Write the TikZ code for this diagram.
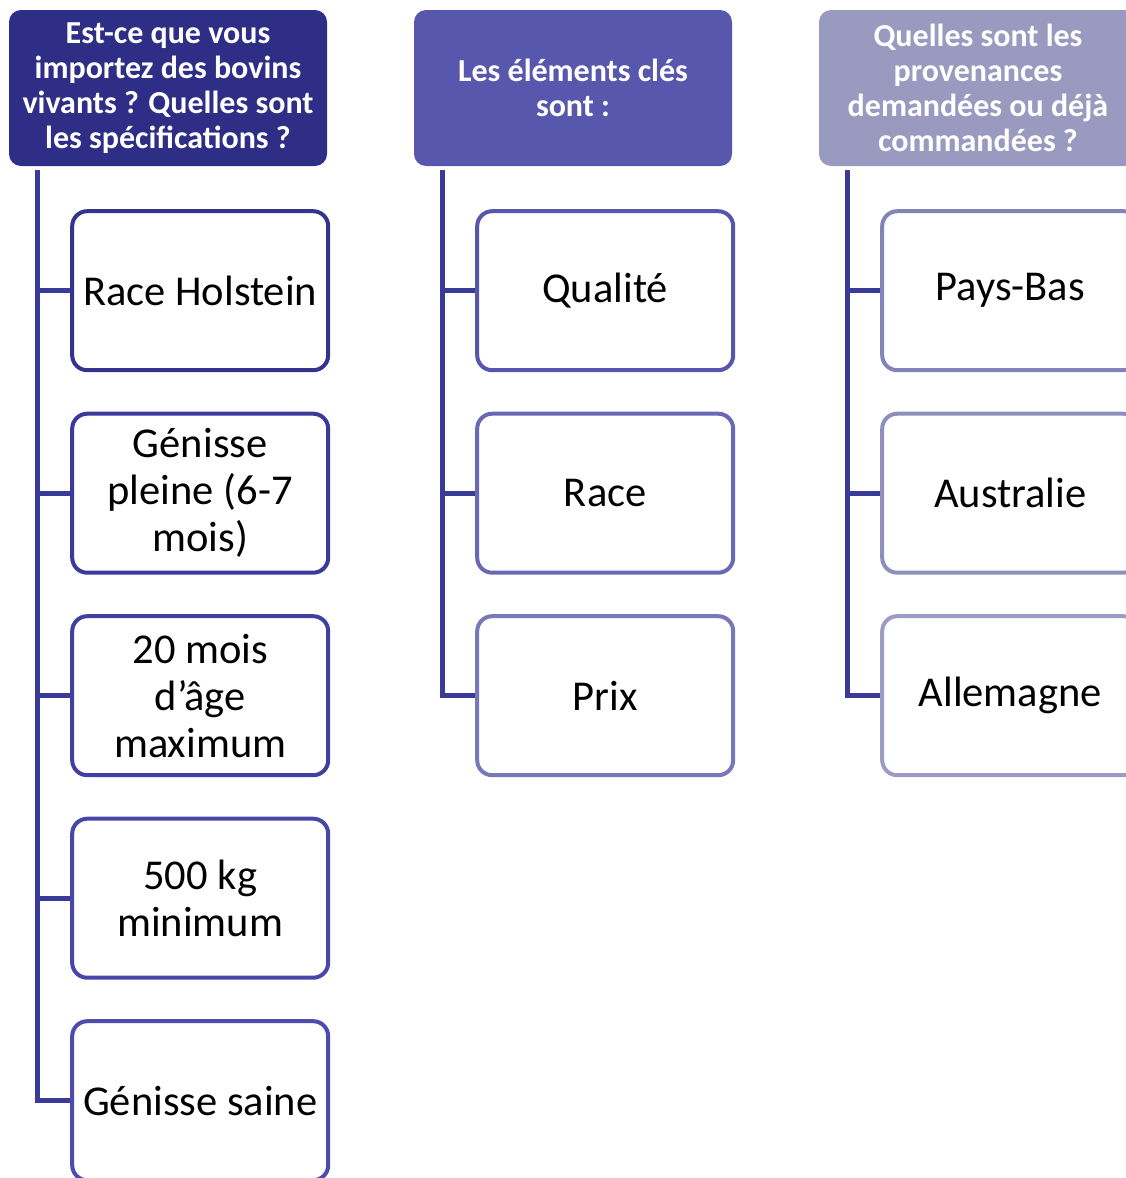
\documentclass[tikz,border=0pt]{standalone}
\usepackage{fontspec}
\setmainfont{Carlito}
\usetikzlibrary{calc, positioning}
\definecolor{headone}{HTML}{2E2E87}
\definecolor{headtwo}{HTML}{5757AE}
\definecolor{headthree}{HTML}{9A9AC0}
\definecolor{linkcolor}{HTML}{3A3A98}
\definecolor{rimA}{HTML}{34348E}
\definecolor{rimB}{HTML}{3A3A9C}
\definecolor{rimC}{HTML}{4040A4}
\definecolor{rimD}{HTML}{4747AA}
\definecolor{rimE}{HTML}{4C4CAF}
\definecolor{rimF}{HTML}{5656AF}
\definecolor{rimG}{HTML}{6868B4}
\definecolor{rimH}{HTML}{7777B9}
\definecolor{rimI}{HTML}{8383B9}
\definecolor{rimJ}{HTML}{8F8FBE}
\definecolor{rimK}{HTML}{9B9BC3}
\tikzset{
  head/.style={
    rounded corners=12pt,
    minimum width=318pt,
    minimum height=156pt,
    inner sep=4pt,
    align=center,
    text=white,
    font=\fontsize{32}{35}\selectfont\bfseries
  },
  item/.style={
    draw,
    line width=4pt,
    rounded corners=15pt,
    fill=white,
    minimum width=256pt,
    minimum height=159pt,
    inner sep=2pt,
    align=center,
    font=\fontsize{42.5}{47}\selectfont
  },
  link/.style={draw=linkcolor, line width=5pt, line join=miter}
}

\begin{document}
\begin{tikzpicture}[x=1pt, y=-1pt]
\path[use as bounding box, clip] (0,0) rectangle (1126,1178);

% question headers
\node[head, fill=headone] (ask) at (168,88) {Est-ce que vous\\importez des bovins\\vivants ? Quelles sont\\les spécifications ?};
\node[head, fill=headtwo] (keys) at (573,88) {Les éléments clés\\sont :};
\node[head, fill=headthree] (origin) at (978,88) {Quelles sont les\\provenances\\demandées ou déjà\\commandées ?};

% first column
\node[item, draw=rimA, below=43pt of ask.south east, anchor=north east, xshift=3pt] (holstein) {Race Holstein};
\node[item, draw=rimB, below=39.5pt of holstein] (pleine) {Génisse\\pleine (6-7\\mois)};
\node[item, draw=rimC, below=39.5pt of pleine] (age) {20 mois\\d’âge\\maximum};
\node[item, draw=rimD, below=39.5pt of age] (weight) {500 kg\\minimum};
\node[item, draw=rimE, below=39.5pt of weight] (saine) {Génisse saine};

% second column
\node[item, draw=rimF, below=43pt of keys.south east, anchor=north east, xshift=3pt] (quality) {Qualité};
\node[item, draw=rimG, below=39.5pt of quality] (breed) {Race};
\node[item, draw=rimH, below=39.5pt of breed] (price) {Prix};

% third column
\node[item, draw=rimI, below=43pt of origin.south east, anchor=north east, xshift=3pt] (nl) {Pays-Bas};
\node[item, draw=rimJ, below=39.5pt of nl] (au) {Australie};
\node[item, draw=rimK, below=39.5pt of au] (de) {Allemagne};

\draw[link] ($(ask.south west)+(29pt,-4pt)$) |- (holstein.west);
\draw[link] ($(ask.south west)+(29pt,-4pt)$) |- (pleine.west);
\draw[link] ($(ask.south west)+(29pt,-4pt)$) |- (age.west);
\draw[link] ($(ask.south west)+(29pt,-4pt)$) |- (weight.west);
\draw[link] ($(ask.south west)+(29pt,-4pt)$) |- (saine.west);

\draw[link] ($(keys.south west)+(29pt,-4pt)$) |- (quality.west);
\draw[link] ($(keys.south west)+(29pt,-4pt)$) |- (breed.west);
\draw[link] ($(keys.south west)+(29pt,-4pt)$) |- (price.west);

\draw[link] ($(origin.south west)+(29pt,-4pt)$) |- (nl.west);
\draw[link] ($(origin.south west)+(29pt,-4pt)$) |- (au.west);
\draw[link] ($(origin.south west)+(29pt,-4pt)$) |- (de.west);

\end{tikzpicture}
\end{document}
